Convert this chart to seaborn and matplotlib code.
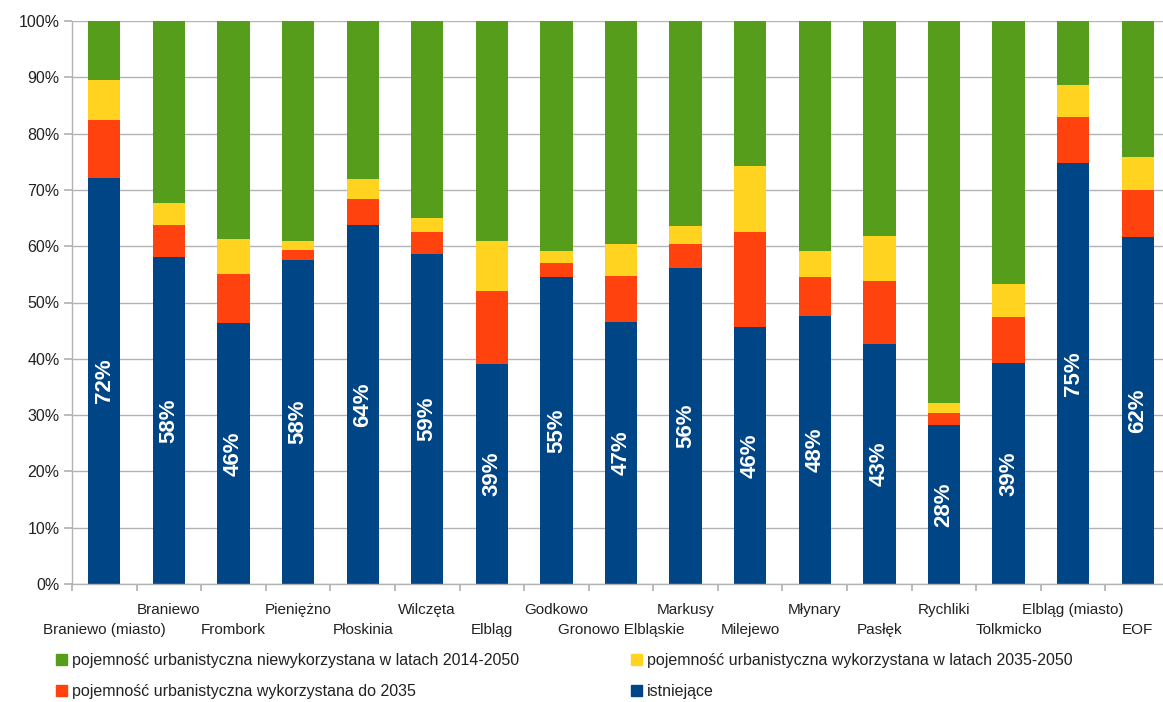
import numpy as np
import pandas as pd
import matplotlib.pyplot as plt
import seaborn as sns
from matplotlib.patches import Patch

# DATA (shares in %)
gminy = ["Braniewo (miasto)", "Braniewo", "Frombork", "Pieniężno", "Płoskinia",
         "Wilczęta", "Elbląg", "Godkowo", "Gronowo Elbląskie", "Markusy",
         "Milejewo", "Młynary", "Pasłęk", "Rychliki", "Tolkmicko",
         "Elbląg (miasto)", "EOF"]
istniejace = [72.1, 58.0, 46.3, 57.6, 63.7, 58.6, 39.1, 54.6, 46.6, 56.2,
              45.6, 47.6, 42.6, 28.2, 39.2, 74.8, 61.6]
do_2035 = [10.3, 5.7, 8.7, 1.7, 4.7, 3.9, 12.9, 2.5, 8.1, 4.2,
           17.0, 6.9, 11.3, 2.1, 8.3, 8.1, 8.4]
lata_2035_2050 = [7.2, 4.0, 6.3, 1.6, 3.5, 2.5, 9.0, 2.1, 5.7, 3.2,
                  11.7, 4.7, 8.0, 1.8, 5.8, 5.7, 5.9]
niewykorzystana = [10.4, 32.3, 38.7, 39.1, 28.1, 35.0, 39.0, 40.8, 39.6, 36.4,
                   25.7, 40.8, 38.1, 67.9, 46.7, 11.4, 24.1]

serie = [
    ("pojemność urbanistyczna niewykorzystana w latach 2014-2050", "#579d1c"),
    ("pojemność urbanistyczna wykorzystana w latach 2035-2050", "#ffd320"),
    ("pojemność urbanistyczna wykorzystana do 2035", "#ff420e"),
    ("istniejące", "#004586"),
]

sns.set_theme(style="white")
plt.rcParams['font.family'] = ['Liberation Sans', 'DejaVu Sans']
TXT = "#222222"
GRID = "#b3b3b3"

df = pd.DataFrame({
    "gmina": gminy,
    "istniejace": istniejace,
    "do_2035": do_2035,
    "lata_2035_2050": lata_2035_2050,
    "niewykorzystana": niewykorzystana,
})
cols = ["istniejace", "do_2035", "lata_2035_2050", "niewykorzystana"]
total = df[cols].sum(axis=1)
for c in cols:
    df[c] = df[c] / total * 100

# cumulative tops, drawn from the tallest layer down
df["top_blue"] = df["istniejace"]
df["top_red"] = df["top_blue"] + df["do_2035"]
df["top_yellow"] = df["top_red"] + df["lata_2035_2050"]
df["top_green"] = df["top_yellow"] + df["niewykorzystana"]

fig = plt.figure(figsize=(11.63, 7.02), dpi=100)
ax = fig.add_axes([72 / 1163, 118 / 702, 1098 / 1163, 563 / 702])

for col, (name, color) in zip(["top_green", "top_yellow", "top_red", "top_blue"], serie):
    sns.barplot(data=df, x="gmina", y=col, order=gminy, color=color,
                saturation=1, width=0.5, linewidth=0, ax=ax)

for i, v in enumerate(df["istniejace"]):
    ax.text(i, v / 2, f"{v:.0f}%", rotation=90, ha="center", va="center",
            color="white", fontsize=16, fontweight="bold")

ax.set_xlim(-0.5, len(gminy) - 0.5)
ax.set_ylim(0, 100)
ax.set_yticks(np.arange(0, 101, 10))
ax.set_yticklabels([f"{t}%" for t in range(0, 101, 10)], fontsize=11.5, color=TXT)
ax.yaxis.grid(True, color=GRID, lw=1)
ax.set_axisbelow(True)

# boundary ticks, category names staggered in two rows
ax.set_xticks(np.arange(-0.5, len(gminy), 1))
ax.set_xticklabels([])
ax.tick_params(axis="x", which="major", length=5, color=GRID, direction="out", bottom=True)
ax.tick_params(axis="y", length=6, color=GRID, pad=3, left=True)
for i, g in enumerate(gminy):
    y = -0.0817 if i % 2 == 0 else -0.0462
    ax.text(i, y, g, transform=ax.get_xaxis_transform(), ha="center",
            va="center", fontsize=11, color=TXT)
ax.set_xlabel("")
ax.set_ylabel("")

sns.despine(ax=ax, top=True, right=True)
for s in ["left", "bottom"]:
    ax.spines[s].set_color(GRID)
    ax.spines[s].set_linewidth(1)

handles = [Patch(color=c, label=n) for n, c in serie]
order = [0, 2, 1, 3]
fig.legend([handles[k] for k in order], [serie[k][0] for k in order],
           loc="upper left", bbox_to_anchor=(48 / 1163, 1 - 645 / 702),
           ncol=2, frameon=False, fontsize=11.5, handlelength=0.7,
           handleheight=0.7, handletextpad=0.3, columnspacing=7,
           labelspacing=1.0, borderpad=0, labelcolor=TXT)

fig.savefig("out.png", dpi=100, facecolor="white")
